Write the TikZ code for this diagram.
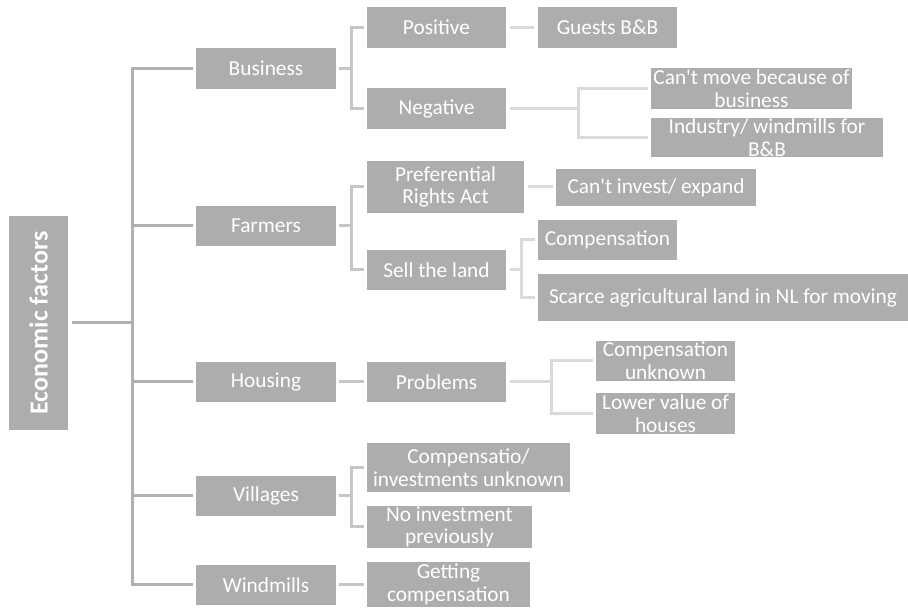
\documentclass[tikz,border=0pt]{standalone}
\usepackage{fontspec}
\setmainfont{Carlito}[Ligatures=TeXOff]
\definecolor{boxfill}{HTML}{ADADAD}
\definecolor{lineA}{HTML}{B0B0B0}
\definecolor{lineB}{HTML}{C6C6C6}
\definecolor{lineC}{HTML}{DADADA}
\begin{document}
\begin{tikzpicture}[x=0.75pt,y=-0.75pt,
  box/.style 2 args={rectangle, fill=boxfill, draw=none, inner sep=0pt,
    minimum width={#1*0.75pt}, minimum height={#2*0.75pt}},
  lbl/.style={text=white, align=center, inner sep=0pt,
    font=\fontsize{16}{17}\selectfont},
  rootlbl/.style={text=white, inner sep=0pt, rotate=90,
    font=\fontsize{19.5}{21}\selectfont\bfseries},
  lA/.style={draw=lineA, line width=2.25pt, line join=miter},
  lB/.style={draw=lineB, line width=2.25pt, line join=miter},
  lC/.style={draw=lineC, line width=2.25pt, line join=miter},
  gap/.style={xshift=#1*0.75pt}]
\useasboundingbox (0,0) rectangle (908,609);

% root
\node[box={59}{214}, label={[rootlbl]center:Economic factors}] (root) at (38.5,323) {};

% first level
\node[box={140}{41}, label={[lbl]center:Business}]  (business)  at (266,68.5) {};
\node[box={140}{40}, label={[lbl]center:Farmers}]   (farmers)   at (266,226) {};
\node[box={140}{40}, label={[lbl]center:Housing}]   (housing)   at (266,382) {};
\node[box={140}{40}, label={[lbl]center:Villages}]  (villages)  at (266,496) {};
\node[box={140}{40}, label={[lbl]center:Windmills}] (windmills) at (266,585) {};

% second level
\node[box={139}{41}, label={[lbl]center:Positive}] (positive) at (436.5,27.5) {};
\node[box={139}{41}, label={[lbl]center:Negative}] (negative) at (436.5,108.5) {};
\node[box={157}{52}, label={[lbl]center:{Preferential\\Rights Act}}] (pref) at (445.5,187) {};
\node[box={139}{40}, label={[lbl]center:Sell the land}] (sell) at (436.5,270) {};
\node[box={139}{40}, label={[lbl]center:Problems}] (problems) at (436.5,382) {};
\node[box={203}{49}, label={[lbl]center:{Compensatio/\\investments unknown}}] (compinv) at (468.5,467.5) {};
\node[box={165}{42}, label={[lbl]center:{No investment\\previously}}] (noinv) at (449.5,527) {};
\node[box={163}{45}, label={[lbl]center:{Getting\\compensation}}] (getting) at (448.5,584.5) {};

% third level
\node[box={139}{41}, label={[lbl]center:Guests B\&B}] (guests) at (607.5,27.5) {};
\node[box={201}{41}, label={[lbl]center:{Can't move because of\\business}}] (cantmove) at (751.5,88.5) {};
\node[box={232}{39}, label={[lbl]center:{Industry/ windmills for\\B\&B}}] (industry) at (767,137.5) {};
\node[box={200}{37}, label={[lbl]center:Can't invest/ expand}] (cantinvest) at (656,187.5) {};
\node[box={139}{40}, label={[lbl]center:Compensation}] (compensation) at (607.5,240) {};
\node[box={370}{47}, label={[lbl]center:Scarce agricultural land in NL for moving}] (scarce) at (723,297.5) {};
\node[box={139}{40}, label={[lbl]center:{Compensation\\unknown}}] (compunk) at (665.5,361) {};
\node[box={139}{41}, label={[lbl]center:{Lower value of\\houses}}] (lower) at (665.5,413.5) {};

% elbow columns
\coordinate (tk) at (132,0);
\coordinate (eA) at (351,0);
\coordinate (eN) at (578,0);
\coordinate (eS) at (521,0);
\coordinate (eP) at (551,0);

% trunk
\draw[lA] ([gap=4]root.east) -- (root.east -| tk);
\draw[lA] ([gap=-3]business.west) -- (business.west -| tk) -- (windmills.west -| tk) -- ([gap=-3]windmills.west);
\foreach \n in {farmers,housing,villages}
  \draw[lA] (\n.west -| tk) -- ([gap=-3]\n.west);

% first to second level
\draw[lB] ([gap=3]business.east) -- (business.east -| eA);
\draw[lB] ([gap=-3]positive.west) -- (positive.west -| eA) -- (negative.west -| eA) -- ([gap=-3]negative.west);
\draw[lB] ([gap=3]farmers.east) -- (farmers.east -| eA);
\draw[lB] ([gap=-3]pref.west) -- (pref.west -| eA) -- (sell.west -| eA) -- ([gap=-3]sell.west);
\draw[lB] ([gap=3]housing.east) -- ([gap=-3]problems.west);
\draw[lB] ([gap=3]villages.east) -- (villages.east -| eA);
\draw[lB] ([gap=-3]compinv.west) -- (compinv.west -| eA) -- (noinv.west -| eA) -- ([gap=-3]noinv.west);
\draw[lB] ([gap=3]windmills.east) -- ([gap=-3]getting.west |- windmills.east);

% second to third level
\draw[lC] ([gap=4]positive.east) -- ([gap=-4]guests.west);
\draw[lC] ([gap=4]negative.east) -- (negative.east -| eN);
\draw[lC] ([gap=-3]cantmove.west) -- (cantmove.west -| eN) -- (industry.west -| eN) -- ([gap=-3]cantmove.west |- industry.west);
\draw[lC] ([gap=4]pref.east) -- ([gap=-3]cantinvest.west |- pref.east);
\draw[lC] ([gap=4]sell.east) -- (sell.east -| eS);
\draw[lC] ([gap=-3]compensation.west) -- (compensation.west -| eS) -- (scarce.west -| eS) -- ([gap=-3]scarce.west);
\draw[lC] ([gap=4]problems.east) -- (problems.east -| eP);
\draw[lC] ([gap=-3]compunk.west) -- (compunk.west -| eP) -- (lower.west -| eP) -- ([gap=-3]lower.west);
\end{tikzpicture}
\end{document}
